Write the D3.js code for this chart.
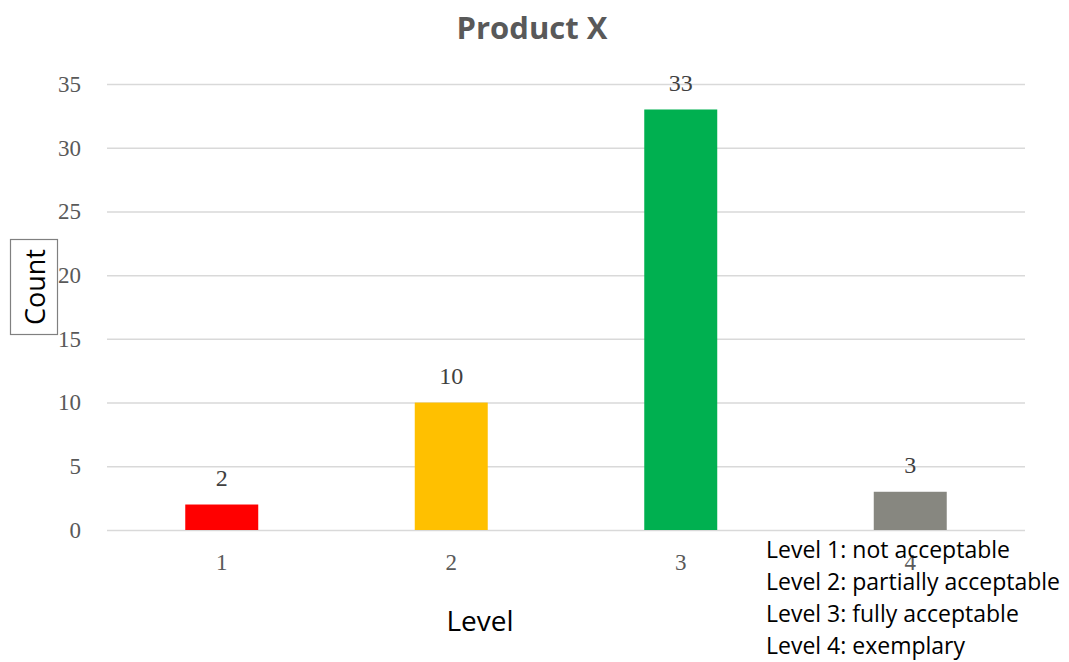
<!DOCTYPE html>
<html>
<head>
<meta charset="utf-8">
<script src="https://d3js.org/d3.v7.min.js"></script>
<style>
  body { margin: 0; background: #fff; }
  .tick text { fill: #595959; font-family: "Liberation Serif", serif; font-size: 23px; }
</style>
</head>
<body>
<svg id="chart" width="1069" height="662"></svg>
<script>
// data
var levels = ["1", "2", "3", "4"];
var counts = [2, 10, 33, 3];
var barColors = ["#FF0000", "#FFC000", "#00B050", "#878780"];
var yTicks = [0, 5, 10, 15, 20, 25, 30, 35];
var notes = ["Level 1: not acceptable", "Level 2: partially acceptable",
             "Level 3: fully acceptable", "Level 4: exemplary"];

var svg = d3.select("#chart");
var margin = {top: 84, right: 44, bottom: 132, left: 107};
var width = 1069 - margin.left - margin.right,
    height = 662 - margin.top - margin.bottom;

var g = svg.append("g").attr("transform", "translate(" + margin.left + "," + margin.top + ")");

var x = d3.scaleBand().domain(levels).range([0, width]).paddingInner(0.682).paddingOuter(0.341);
var y = d3.scaleLinear().domain([0, 35]).range([height, 0]);

// gridlines + y labels
var yAxis = g.append("g")
    .call(d3.axisLeft(y).tickValues(yTicks).tickSize(-width).tickPadding(26));
yAxis.select(".domain").remove();
yAxis.selectAll(".tick line").attr("stroke", "#D9D9D9").attr("stroke-width", 1.5);
yAxis.selectAll(".tick text").attr("dy", "0.32em");

// x labels
var xAxis = g.append("g")
    .attr("transform", "translate(0," + height + ")")
    .call(d3.axisBottom(x).tickSize(0).tickPadding(24));
xAxis.select(".domain").remove();

// bars
g.selectAll(".bar")
  .data(counts)
  .enter().append("rect")
    .attr("class", "bar")
    .attr("x", function(d, i) { return x(levels[i]); })
    .attr("width", x.bandwidth())
    .attr("y", function(d) { return y(d); })
    .attr("height", function(d) { return height - y(d); })
    .attr("fill", function(d, i) { return barColors[i]; });

// value labels
g.selectAll(".val")
  .data(counts)
  .enter().append("text")
    .attr("x", function(d, i) { return x(levels[i]) + x.bandwidth() / 2; })
    .attr("y", function(d) { return y(d) - 19; })
    .attr("text-anchor", "middle")
    .attr("fill", "#404040")
    .style("font-family", "Liberation Serif, serif")
    .style("font-size", "24px")
    .text(function(d) { return d; });

// title
svg.append("text")
    .attr("x", 532).attr("y", 39)
    .attr("text-anchor", "middle")
    .attr("fill", "#595959")
    .style("font-family", "Open Sans, sans-serif")
    .style("font-weight", "bold")
    .style("font-size", "31px")
    .text("Product X");

// y title in a box
svg.append("rect")
    .attr("x", 10.5).attr("y", 239.5).attr("width", 47).attr("height", 95)
    .attr("fill", "none").attr("stroke", "#808080").attr("stroke-width", 1.2);
svg.append("text")
    .attr("transform", "translate(45,287) rotate(-90)")
    .attr("text-anchor", "middle")
    .attr("fill", "#000")
    .style("font-family", "Open Sans, sans-serif")
    .style("font-size", "27px")
    .text("Count");

// x title
svg.append("text")
    .attr("x", 480).attr("y", 631)
    .attr("text-anchor", "middle")
    .attr("fill", "#000")
    .style("font-family", "Open Sans, sans-serif")
    .style("font-size", "28px")
    .text("Level");

// legend notes
svg.selectAll(".note")
  .data(notes)
  .enter().append("text")
    .attr("class", "note")
    .attr("x", 766)
    .attr("y", function(d, i) { return 558 + i * 32; })
    .attr("fill", "#000")
    .style("font-family", "Open Sans, sans-serif")
    .style("font-size", "23px")
    .text(function(d) { return d; });
</script>
</body>
</html>
